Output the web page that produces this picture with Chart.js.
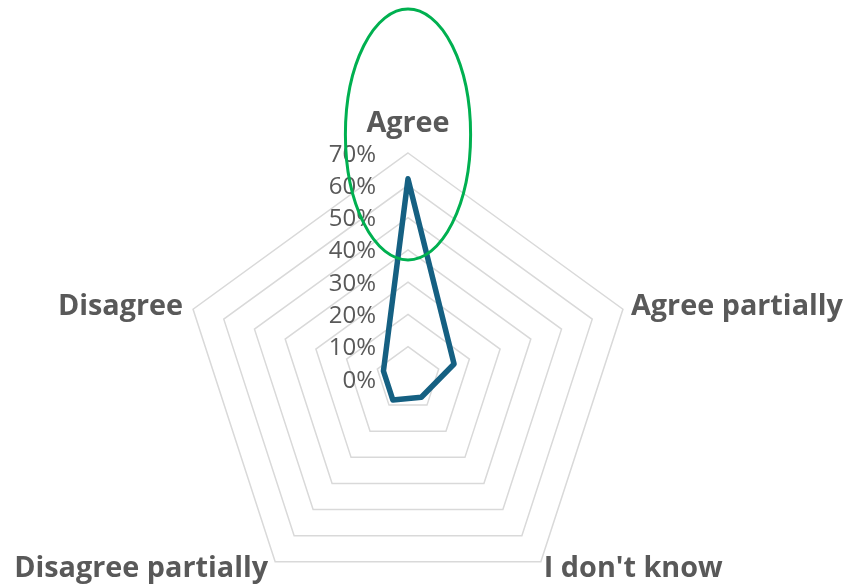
<!DOCTYPE html>
<html>
<head>
<meta charset="utf-8">
<script src="https://cdn.jsdelivr.net/npm/chart.js@4/dist/chart.umd.min.js"></script>
<style>
  html, body { margin: 0; padding: 0; background: #ffffff; overflow: hidden; }
  #wrap { position: relative; width: 846px; height: 640px; }
</style>
</head>
<body>
<div id="wrap"><canvas id="radarChart"></canvas></div>
<script>
// answers and share of respondents (in %)
const categories = ["Agree", "Agree partially", "I don't know", "Disagree partially", "Disagree"];
const shares = [62, 15, 7, 8, 8];
const tickValues = [0, 10, 20, 30, 40, 50, 60, 70];

const textColor = "#595959";

// Excel-like tick labels: right aligned left of the vertical axis
const tickLabelPlugin = {
  id: "tickLabels",
  afterDraw(chart) {
    const scale = chart.scales.r;
    const ctx = chart.ctx;
    ctx.save();
    ctx.font = "24px 'Open Sans'";
    ctx.fillStyle = textColor;
    ctx.textAlign = "right";
    ctx.textBaseline = "alphabetic";
    tickValues.forEach((v) => {
      const y = scale.yCenter - scale.getDistanceFromCenterForValue(v);
      ctx.fillText(v + "%", scale.xCenter - 32, y + 8.5);
    });
    ctx.restore();
  },
};

// category labels placed next to the outer polygon corners
const pointLabelPlugin = {
  id: "pointLabels",
  afterDraw(chart) {
    const scale = chart.scales.r;
    const ctx = chart.ctx;
    ctx.save();
    ctx.font = "bold 28.8px 'Open Sans'";
    ctx.fillStyle = textColor;
    ctx.textBaseline = "alphabetic";
    categories.forEach((label, i) => {
      const p = scale.getPointPosition(i, scale.drawingArea);
      const dx = p.x - scale.xCenter;
      const dy = p.y - scale.yCenter;
      if (Math.abs(dx) < 1) {
        ctx.textAlign = "center";
        ctx.fillText(label, p.x, p.y - 21);
      } else if (dy < 0) {
        ctx.textAlign = dx > 0 ? "left" : "right";
        ctx.fillText(label, p.x + (dx > 0 ? 8 : -10), p.y + 6);
      } else {
        ctx.textAlign = dx > 0 ? "left" : "right";
        ctx.fillText(label, p.x + (dx > 0 ? 3 : -7), p.y + 15);
      }
    });
    ctx.restore();
  },
};

// green highlight ellipse around the "Agree" answer
const highlightPlugin = {
  id: "highlight",
  afterDraw(chart) {
    const scale = chart.scales.r;
    const r = scale.drawingArea;
    const ctx = chart.ctx;
    ctx.save();
    ctx.strokeStyle = "#00B050";
    ctx.lineWidth = 3;
    ctx.beginPath();
    ctx.ellipse(scale.xCenter, scale.yCenter - r * 1.082, r * 0.277, r * 0.555, 0, 0, Math.PI * 2);
    ctx.stroke();
    ctx.restore();
  },
};

const chartData = {
  labels: categories,
  datasets: [
    {
      label: "Share",
      data: shares,
      borderColor: "#156082",
      borderWidth: 5.5,
      borderJoinStyle: "round",
      backgroundColor: "rgba(0,0,0,0)",
      fill: false,
      pointRadius: 0,
      tension: 0,
    },
  ],
};

const config = {
  type: "radar",
  data: chartData,
  options: {
    responsive: true,
    maintainAspectRatio: false,
    animation: false,
    layout: {
      padding: { left: 182, right: 212, top: 153, bottom: 35 },
    },
    plugins: {
      legend: { display: false },
      tooltip: { enabled: false },
    },
    scales: {
      r: {
        min: 0,
        max: 70,
        ticks: { stepSize: 10, display: false },
        grid: { color: "#D9D9D9", lineWidth: 1.5 },
        angleLines: { display: false },
        pointLabels: { display: false },
      },
    },
  },
  plugins: [tickLabelPlugin, pointLabelPlugin, highlightPlugin],
};

const ctx = document.getElementById("radarChart");
const myChart = new Chart(ctx, config);
</script>
</body>
</html>
